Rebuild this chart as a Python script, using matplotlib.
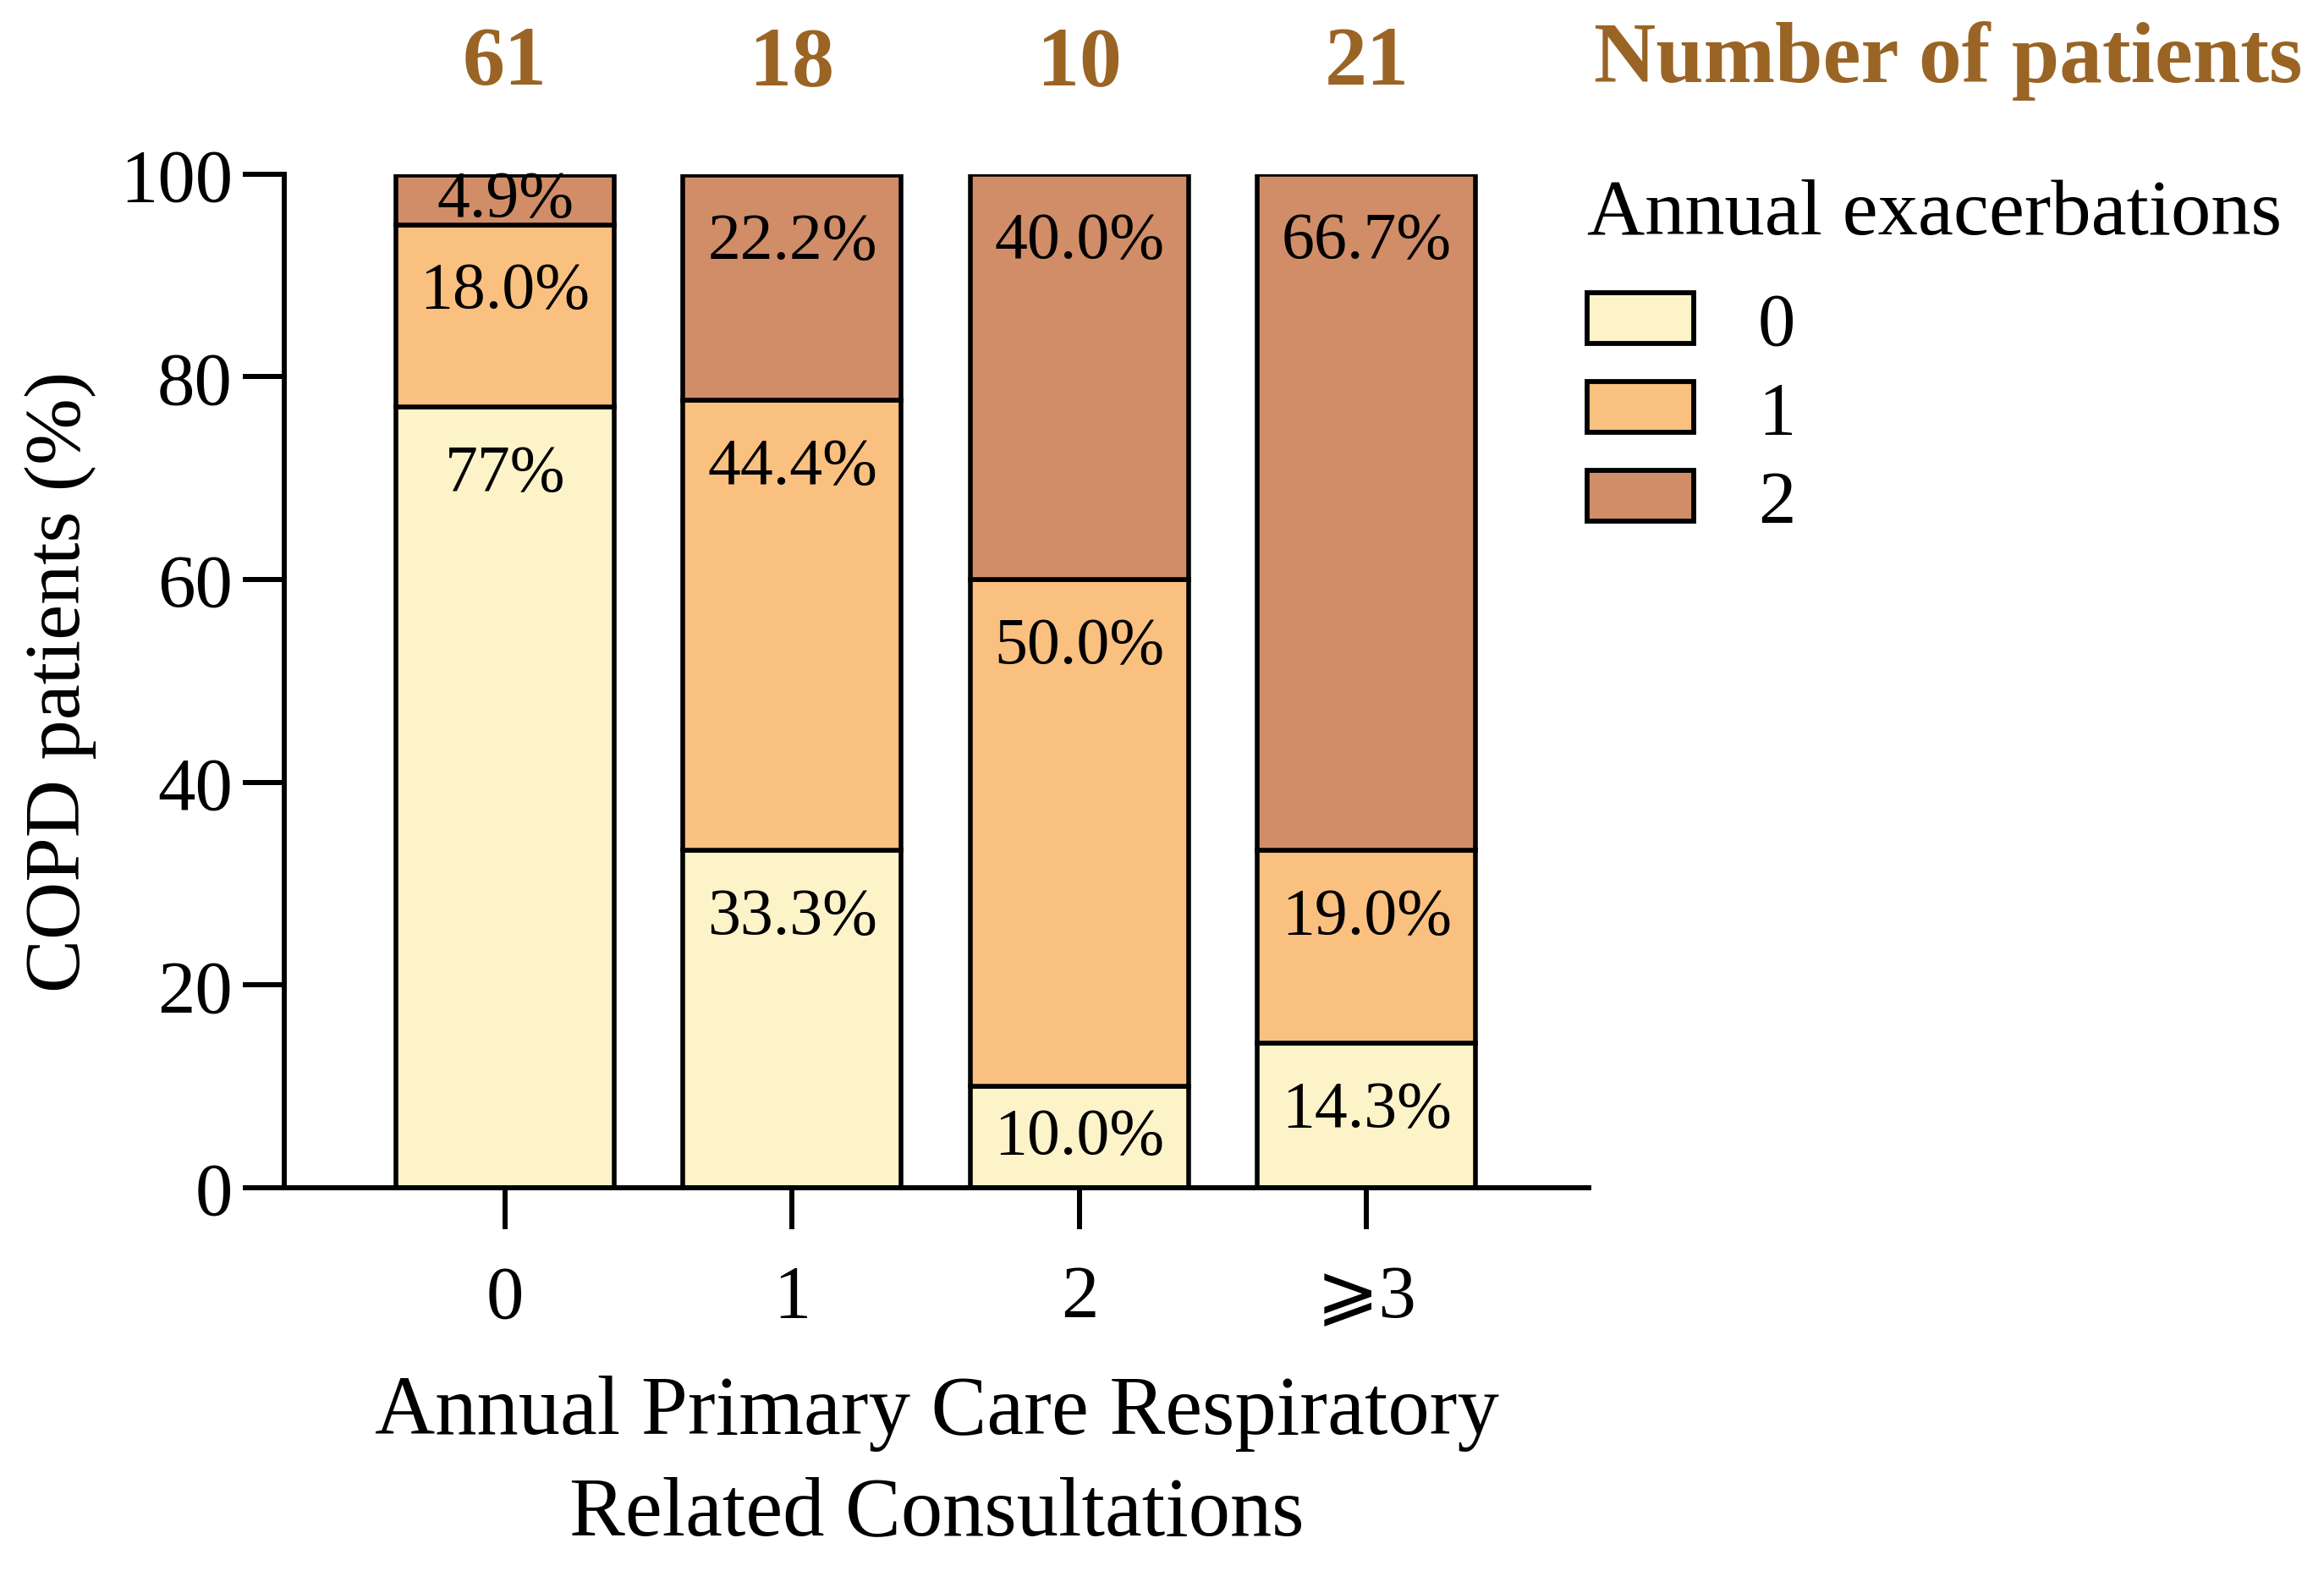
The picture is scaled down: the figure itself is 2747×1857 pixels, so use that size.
import matplotlib
matplotlib.use("Agg")
import matplotlib.pyplot as plt
import matplotlib.transforms as mtransforms
from matplotlib.patches import Patch

plt.rcParams['font.family'] = ['Liberation Serif', 'DejaVu Serif', 'DejaVu Sans']

# ---- data ----
categories = ['0', '1', '2', '⩾3']
n_patients = [61, 18, 10, 21]
exac_levels = ['0', '1', '2']
pct_0 = [77.0, 33.3, 10.0, 14.3]
pct_1 = [18.0, 44.4, 50.0, 19.0]
pct_2 = [4.9, 22.2, 40.0, 66.7]
lbl_0 = ['77%', '33.3%', '10.0%', '14.3%']
lbl_1 = ['18.0%', '44.4%', '50.0%', '19.0%']
lbl_2 = ['4.9%', '22.2%', '40.0%', '66.7%']
colors = ['#FDF3C8', '#FAC07F', '#D18D67']
num_color = '#9A6424'

W, H, DPI = 2747, 1858, 100
fig = plt.figure(figsize=(W / DPI, H / DPI), dpi=DPI)
ax = fig.add_axes([336 / W, 1 - 1405 / H, (1878 - 336) / W, (1405 - 206.7) / H])

x = list(range(len(categories)))
series = [pct_0, pct_1, pct_2]
labels = [lbl_0, lbl_1, lbl_2]
bottom = [0.0] * len(x)
handles = []
for s, (vals, labs) in enumerate(zip(series, labels)):
    ax.bar(x, vals, width=0.76, bottom=bottom, color=colors[s],
           edgecolor='black', linewidth=4.0, zorder=2)
    handles.append(Patch(facecolor=colors[s], edgecolor='black', linewidth=4.2,
                         label=exac_levels[s]))
    for i in x:
        top = bottom[i] + vals[i]
        ypos = max(top - 6.6, bottom[i] + vals[i] / 2)
        ax.text(i, ypos, labs[i], ha='center', va='center', fontsize=56,
                color='black', zorder=3)
    bottom = [b + v for b, v in zip(bottom, vals)]

ax.set_xlim(-0.769, 3.774)
ax.set_ylim(0, 100)
ax.set_yticks([0, 20, 40, 60, 80, 100])
ax.set_xticks(x)
ax.set_xticklabels(categories)
for sp in ['top', 'right']:
    ax.spines[sp].set_visible(False)
for sp in ['left', 'bottom']:
    ax.spines[sp].set_linewidth(4.3)
ax.tick_params(axis='y', length=35, width=4.3, labelsize=64, pad=9)
ax.tick_params(axis='x', length=35, width=4.3, labelsize=64, pad=30)

ax.set_ylabel('COPD patients (%)', fontsize=68, labelpad=20)
ax.set_xlabel('Annual Primary Care Respiratory\nRelated Consultations',
              fontsize=71, linespacing=1.42, labelpad=36)

# patient counts above bars
trans = mtransforms.blended_transform_factory(ax.transData, fig.transFigure)
for i, n in enumerate(n_patients):
    ax.text(i, 1 - 100 / H, str(n), transform=trans, ha='center', va='baseline',
            fontsize=72, fontweight='bold', color=num_color)
fig.text(1884 / W, 1 - 97 / H, 'Number of patients', ha='left', va='baseline',
         fontsize=73, fontweight='bold', color=num_color)

leg = fig.legend(handles=handles, loc='upper left',
                 bbox_to_anchor=(1876 / W, 1 - 212 / H), frameon=False,
                 fontsize=64, title='Annual exacerbations', title_fontsize=68,
                 alignment='left', handlelength=1.42, handleheight=0.67,
                 handletextpad=0.85, labelspacing=0.27, borderpad=0,
                 borderaxespad=0)
leg._legend_box.sep = 0.27 * 64 + 18

fig.savefig('out.png', dpi=DPI)
